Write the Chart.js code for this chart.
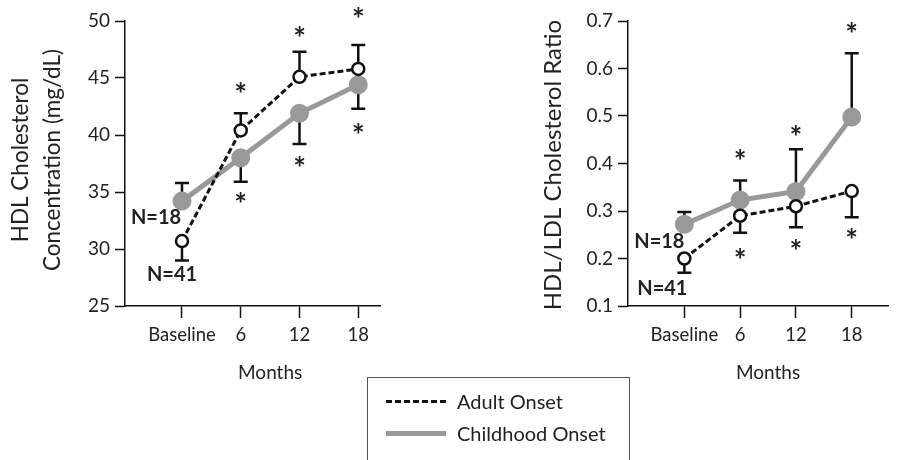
<!DOCTYPE html>
<html>
<head>
<meta charset="utf-8">
<script src="https://cdn.jsdelivr.net/npm/chart.js@4.4.0/dist/chart.umd.min.js"></script>
<style>
    body { margin: 0; background: #fff; width: 900px; height: 460px; overflow: hidden; position: relative; font-family: Lato, sans-serif; color: #222; }
    canvas { position: absolute; top: 0; }
    #hdlChart { left: 0; }
    #ratioChart { left: 450px; }
    .legend { position: absolute; left: 367px; top: 377px; width: 263px; height: 95px; border: 1.5px solid #555; box-sizing: border-box; }
    .row { position: absolute; left: 18px; height: 22px; font-size: 20px; line-height: 22px; }
    .row span.line { position: absolute; left: 0; width: 60px; }
    .row span.txt { position: absolute; left: 71px; white-space: nowrap; }
    .dash { top: 10px; border-top: 3px dashed #111; }
    .solid { top: 9px; border-top: 5px solid #999; }
</style>
</head>
<body>
<canvas id="hdlChart" width="450" height="390"></canvas>
<canvas id="ratioChart" width="450" height="390"></canvas>
<div class="legend">
    <div class="row" style="top:12px"><span class="line dash"></span><span class="txt">Adult Onset</span></div>
    <div class="row" style="top:44px"><span class="line solid"></span><span class="txt">Childhood Onset</span></div>
</div>
<script>
const months = ["Baseline", "6", "12", "18"]

// HDL cholesterol concentration (mg/dL)
const hdlAdult = [30.7, 40.4, 45.1, 45.8]
const hdlAdultErr = [29.0, 41.9, 47.3, 47.9]
const hdlChild = [34.2, 38.0, 41.9, 44.4]
const hdlChildErr = [35.8, 35.9, 39.2, 42.3]
const hdlStarsAbove = [null, 44.1, 49.0, 50.7]
const hdlStarsBelow = [null, 34.5, 37.6, 40.5]

// HDL/LDL ratio
const ratioAdult = [0.20, 0.29, 0.31, 0.342]
const ratioAdultErr = [0.17, 0.254, 0.266, 0.287]
const ratioChild = [0.272, 0.323, 0.341, 0.498]
const ratioChildErr = [0.298, 0.364, 0.430, 0.632]
const ratioStarsAbove = [null, 0.417, 0.468, 0.685]
const ratioStarsBelow = [null, 0.209, 0.228, 0.2515]

const adultN = "N=41"
const childN = "N=18"

const FONT = "Lato, sans-serif"
const GREY = "#999"

function toPoints(arr) {
    return arr.map(function (v, i) { return { x: i, y: v } })
}

// error bars, asterisks, N labels and axis titles
const extras = {
    id: "extras",
    beforeDatasetsDraw(chart, args, opts) {
        const ctx = chart.ctx
        const xs = chart.scales.x, ys = chart.scales.y
        ctx.save()
        ctx.strokeStyle = "#111"
        ctx.lineWidth = 2.5
        opts.errs.forEach(function (errArr, d) {
            const vals = chart.data.datasets[d].data
            errArr.forEach(function (e, i) {
                const x = xs.getPixelForValue(i)
                const y0 = ys.getPixelForValue(vals[i].y)
                const y1 = ys.getPixelForValue(e)
                ctx.beginPath()
                ctx.moveTo(x, y0)
                ctx.lineTo(x, y1)
                ctx.moveTo(x - 7, y1)
                ctx.lineTo(x + 7, y1)
                ctx.stroke()
            })
        })
        ctx.restore()
    },
    afterDatasetsDraw(chart, args, opts) {
        const ctx = chart.ctx
        const xs = chart.scales.x, ys = chart.scales.y
        ctx.save()
        ctx.fillStyle = "#222"
        ctx.textAlign = "center"
        ctx.textBaseline = "alphabetic"
        ctx.font = "bold 30px " + FONT
        opts.starsAbove.concat(opts.starsBelow).forEach(function (s, k) {
            if (s === null) return
            ctx.fillText("*", xs.getPixelForValue(k % 4), ys.getPixelForValue(s) + 17)
        })

        ctx.textBaseline = "middle"
        ctx.font = "bold 20px " + FONT
        const pa = chart.data.datasets[0].data[0]
        const pc = chart.data.datasets[1].data[0]
        ctx.fillText(adultN, xs.getPixelForValue(pa.x) + opts.nAdult[0], ys.getPixelForValue(pa.y) + opts.nAdult[1])
        ctx.fillText(childN, xs.getPixelForValue(pc.x) + opts.nChild[0], ys.getPixelForValue(pc.y) + opts.nChild[1])

        ctx.font = "19px " + FONT
        ctx.fillText("Months", xs.getPixelForValue(1.5), 373)

        ctx.font = opts.titleSize + "px " + FONT
        ctx.translate(0, opts.titleY)
        ctx.rotate(-Math.PI / 2)
        opts.yTitle.forEach(function (line, i) {
            ctx.fillText(line, 0, opts.titleX[i])
        })
        ctx.restore()
    }
}

function makeChart(id, adult, child, cfg) {
    return new Chart(document.getElementById(id), {
        type: "line",
        data: {
            datasets: [{
                label: "Adult Onset",
                data: toPoints(adult),
                borderColor: "#111",
                borderWidth: 3,
                borderDash: [6, 3],
                pointRadius: 6,
                pointBorderWidth: 2.5,
                pointBackgroundColor: "#fff",
                pointBorderColor: "#111",
                tension: 0
            }, {
                label: "Childhood Onset",
                data: toPoints(child),
                borderColor: GREY,
                borderWidth: 5,
                pointRadius: 7,
                pointBackgroundColor: GREY,
                pointBorderColor: GREY,
                tension: 0
            }]
        },
        options: {
            responsive: false,
            animation: false,
            devicePixelRatio: 1,
            layout: { padding: { top: 21, right: cfg.padRight, left: 0, bottom: 0 } },
            plugins: {
                legend: { display: false },
                tooltip: { enabled: false },
                extras: cfg.extras
            },
            scales: {
                x: {
                    type: "linear",
                    min: cfg.xMin,
                    max: cfg.xMax,
                    afterBuildTicks(scale) {
                        scale.ticks = months.map(function (m, i) { return { value: i } })
                    },
                    afterFit(scale) { scale.height = 84 },
                    border: { color: "#111", width: 1.5 },
                    grid: { drawOnChartArea: false, tickLength: 12, tickColor: "#111", tickWidth: 1.5 },
                    ticks: {
                        color: "#222",
                        font: { family: FONT, size: 18.5 },
                        padding: 6,
                        maxRotation: 0,
                        callback: function (v) { return months[v] }
                    }
                },
                y: {
                    min: cfg.yMin,
                    max: cfg.yMax,
                    afterFit(scale) { scale.width = cfg.yWidth },
                    border: { color: "#111", width: 1.5 },
                    grid: { drawOnChartArea: false, tickLength: 10, tickColor: "#111", tickWidth: 1.5 },
                    ticks: {
                        stepSize: cfg.step,
                        color: "#222",
                        font: { family: FONT, size: 19 },
                        padding: 5,
                        callback: cfg.fmt
                    }
                }
            }
        },
        plugins: [extras]
    })
}

makeChart("hdlChart", hdlAdult, hdlChild, {
    xMin: -0.97, xMax: 3.37, padRight: 70, yWidth: 125,
    yMin: 25, yMax: 50, step: 5,
    fmt: function (v) { return v },
    extras: {
        errs: [hdlAdultErr, hdlChildErr],
        starsAbove: hdlStarsAbove, starsBelow: hdlStarsBelow,
        nAdult: [-10, 34], nChild: [-26, 16],
        yTitle: ["HDL Cholesterol", "Concentration (mg/dL)"],
        titleSize: 22.5, titleX: [21, 53], titleY: 160
    }
})

makeChart("ratioChart", ratioAdult, ratioChild, {
    xMin: -1.01, xMax: 3.65, padRight: 0, yWidth: 178,
    yMin: 0.1, yMax: 0.7, step: 0.1,
    fmt: function (v) { return v.toFixed(1) },
    extras: {
        errs: [ratioAdultErr, ratioChildErr],
        starsAbove: ratioStarsAbove, starsBelow: ratioStarsBelow,
        nAdult: [-22, 30], nChild: [-25, 17],
        yTitle: ["HDL/LDL Cholesterol Ratio"],
        titleSize: 24, titleX: [103], titleY: 165
    }
})
</script>
</body>
</html>
